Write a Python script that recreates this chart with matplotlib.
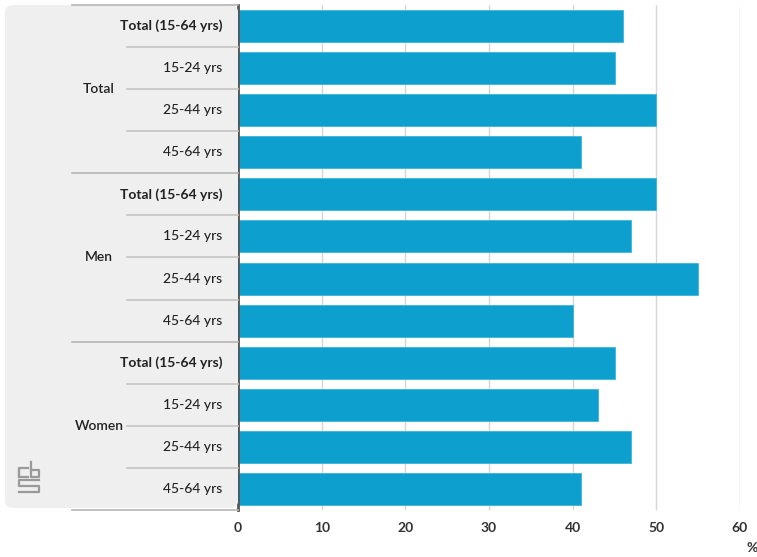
import numpy as np
import matplotlib.pyplot as plt
from matplotlib.patches import FancyBboxPatch
from matplotlib.transforms import blended_transform_factory
from matplotlib.lines import Line2D

plt.rcParams['font.family'] = ['Lato', 'DejaVu Sans']

groups = ['Total', 'Men', 'Women']
ages = ['Total (15-64 yrs)', '15-24 yrs', '25-44 yrs', '45-64 yrs']
values_total = [46, 45, 50, 41]
values_men = [50, 47, 55, 40]
values_women = [45, 43, 47, 41]
xticks = [0, 10, 20, 30, 40, 50, 60]

vals = values_total + values_men + values_women
W, H = 757, 557
fig = plt.figure(figsize=(W / 100, H / 100), dpi=100)
ax = fig.add_axes([238 / W, 1 - 510 / H, (740 - 238) / W, 505 / H])

y = np.arange(len(vals))
ax.set_axisbelow(True)
ax.grid(axis='x', color='#d6d6d6', linewidth=1)
ax.barh(y, vals, height=0.76, color='#0d9fcd', edgecolor='#3db5dc', linewidth=0.6, zorder=2)
ax.set_xlim(0, 60)
ax.set_ylim(len(vals) - 0.5, -0.5)
ax.set_xticks(xticks)
ax.set_yticks([])
ax.tick_params(axis='x', length=0, pad=9, labelsize=10, labelcolor='#333333')
for lab in ax.get_xticklabels():
    lab.set_fontweight('bold')
for s in ['top', 'right', 'bottom']:
    ax.spines[s].set_visible(False)
ax.spines['left'].set_color('#555555')
ax.spines['left'].set_linewidth(2)
ax.spines['left'].set_zorder(5)

# left label panel
panel = FancyBboxPatch((5 / W, 1 - 508 / H), (238 - 5) / W, 503 / H,
                       boxstyle='round,pad=0,rounding_size=0.012',
                       transform=fig.transFigure, facecolor='#efefef',
                       edgecolor='none', zorder=0)
fig.patches.append(panel)

tr = blended_transform_factory(fig.transFigure, ax.transData)
for b in np.arange(-0.5, len(vals), 1.0):
    k = int(round(b + 0.5))
    x0 = 72 / W if k % 4 == 0 else 127 / W
    fig.add_artist(Line2D([x0, 238 / W], [b, b], transform=tr,
                          color='#c4c4c4' if k % 4 else '#b5b5b5', linewidth=1.2))

for gi, g in enumerate(groups):
    fig.text(99 / W, gi * 4 + 1.5, g, transform=tr, ha='center', va='center',
             fontsize=10, fontweight='semibold', color='#222222')
    for ai, a in enumerate(ages):
        fig.text(222 / W, gi * 4 + ai, a, transform=tr, ha='right', va='center',
                 fontsize=10, fontweight='bold' if ai == 0 else 'medium',
                 color='#222222')

fig.text(752 / W, 1 - 548 / H, '%', ha='center', va='center', fontsize=10,
         fontweight='bold', color='#333333')

# cbs logo (simplified)
def px(xs, ys):
    return [x / W for x in xs], [1 - v / H for v in ys]

lc = '#9a9a9a'
segs = [
    ([28, 19, 19, 28], [468, 468, 477, 477]),
    ([31, 31, 39, 39, 31], [462, 477, 477, 470, 470]),
    ([39, 19, 19, 39, 39, 19], [480, 480, 486, 486, 492, 492]),
    ([19, 19], [477, 470]),
]
for xs, ys in segs:
    xx, yy = px(xs, ys)
    fig.add_artist(Line2D(xx, yy, transform=fig.transFigure, color=lc, linewidth=1.6))

fig.savefig('out.png', dpi=100)
